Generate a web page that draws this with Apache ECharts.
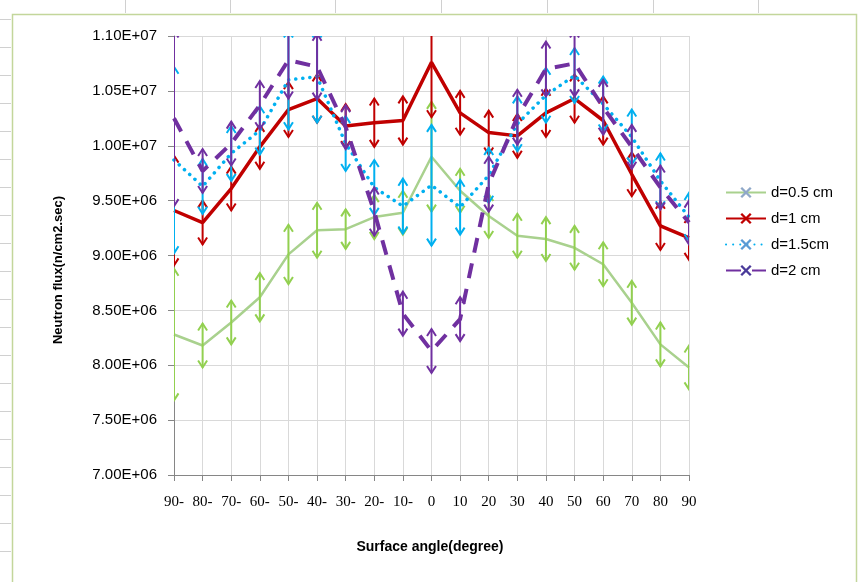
<!DOCTYPE html>
<html><head><meta charset="utf-8">
<script src="https://cdn.jsdelivr.net/npm/echarts@6/dist/echarts.min.js"></script>
<style>html,body{margin:0;padding:0;background:#fff}#c{width:861px;height:582px}</style>
</head><body><div id="c"></div>
<script>
// Category tick labels (surface angle)
const angles = ['90-','80-','70-','60-','50-','40-','30-','20-','10-','0','10','20','30','40','50','60','70','80','90'];
const seriesNames = ['d=0.5 cm','d=1 cm','d=1.5cm','d=2 cm'];
// Neutron flux values (n/cm2.sec)
const flux05 = [8.28e6,8.18e6,8.39e6,8.62e6,9.01e6,9.23e6,9.24e6,9.35e6,9.39e6,9.90e6,9.59e6,9.36e6,9.18e6,9.15e6,9.07e6,8.92e6,8.57e6,8.19e6,7.98e6];
const flux10 = [9.41e6,9.30e6,9.61e6,9.99e6,10.33e6,10.43e6,10.18e6,10.21e6,10.23e6,10.76e6,10.30e6,10.12e6,10.09e6,10.30e6,10.43e6,10.23e6,9.74e6,9.27e6,9.16e6];
const flux15 = [9.87e6,9.63e6,9.93e6,10.14e6,10.60e6,10.63e6,10.02e6,9.62e6,9.45e6,9.64e6,9.44e6,9.73e6,10.20e6,10.46e6,10.64e6,10.38e6,10.08e6,9.68e6,9.35e6];
const flux20 = [10.25e6,9.77e6,10.02e6,10.37e6,10.78e6,10.72e6,10.17e6,9.40e6,8.47e6,8.13e6,8.42e6,9.65e6,10.26e6,10.70e6,10.75e6,10.35e6,9.99e6,9.62e6,9.30e6];
// Error bar half-lengths
const err05 = [0.6e6,0.2e6,0.2e6,0.22e6,0.27e6,0.25e6,0.18e6,0.2e6,0.2e6,0.5e6,0.2e6,0.2e6,0.2e6,0.2e6,0.2e6,0.2e6,0.2e6,0.2e6,0.2e6];
const err10 = [0.5e6,0.2e6,0.2e6,0.2e6,0.25e6,0.22e6,0.2e6,0.22e6,0.22e6,0.5e6,0.2e6,0.2e6,0.2e6,0.22e6,0.22e6,0.22e6,0.2e6,0.22e6,0.2e6];
const err15 = [0.85e6,0.25e6,0.25e6,0.22e6,0.45e6,0.42e6,0.25e6,0.25e6,0.25e6,0.55e6,0.25e6,0.25e6,0.25e6,0.25e6,0.25e6,0.25e6,0.25e6,0.25e6,0.22e6];
const err20 = [0.8e6,0.2e6,0.2e6,0.22e6,0.35e6,0.3e6,0.2e6,0.22e6,0.2e6,0.2e6,0.2e6,0.25e6,0.25e6,0.25e6,0.3e6,0.25e6,0.2e6,0.2e6,0.2e6];

function expFmt(v){
  const e = Math.floor(Math.log10(v) + 1e-9);
  const m = v / Math.pow(10, e);
  return m.toFixed(2) + 'E+' + String(e).padStart(2,'0');
}
function errRender(color){
  return function(params, api){
    const x = api.value(0), v = api.value(1), e = api.value(2);
    const top = api.coord([x, v + e]);
    const bot = api.coord([x, v - e]);
    const w = 4.5, h = 7;
    const st = {stroke: color, lineWidth: 2, fill: null};
    return {type:'group', children:[
      {type:'line', shape:{x1:top[0],y1:top[1],x2:bot[0],y2:bot[1]}, style:st},
      {type:'polyline', shape:{points:[[top[0]-w,top[1]+h],[top[0],top[1]],[top[0]+w,top[1]+h]]}, style:st},
      {type:'polyline', shape:{points:[[bot[0]-w,bot[1]-h],[bot[0],bot[1]],[bot[0]+w,bot[1]-h]]}, style:st}
    ]};
  };
}
function errData(vals, errs){ return vals.map((v,i)=>[i, v, errs[i]]); }

const xMark = 'path://M0,1.5L1.5,0L10,8.5L8.5,10Z M8.5,0L10,1.5L1.5,10L0,8.5Z';
const colors = ['#a9d18e','#c00000','#00b0f0','#7030a0'];
const markColors = ['#8fa8c8','#c00000','#5b9bd5','#4a3a9a'];
const errColors = ['#92d050','#c00000','#00b0f0','#7030a0'];
const lineStyles = [
  {color: colors[0], width: 2.5, type: 'solid'},
  {color: colors[1], width: 3.5, type: 'solid'},
  {color: colors[2], width: 3.5, type: [0.1, 7], cap: 'round'},
  {color: colors[3], width: 4, type: [15, 11]}
];
const vals = [flux05, flux10, flux15, flux20];
const errs = [err05, err10, err15, err20];

const series = [];
for (let k = 0; k < 4; k++) {
  series.push({
    name: seriesNames[k], type: 'line', data: vals[k], symbol: xMark, symbolSize: 6, showSymbol: false,
    lineStyle: lineStyles[k], itemStyle: {color: markColors[k]}, z: 3 + k * 2, animation: false
  });
  series.push({
    name: seriesNames[k] + ' err', type: 'custom', data: errData(vals[k], errs[k]),
    renderItem: errRender(errColors[k]), encode: {x: 0, y: 1}, clip: true, z: 4 + k * 2,
    animation: false, silent: true
  });
}

const chart = echarts.init(document.getElementById('c'));
chart.setOption({
  backgroundColor: '#fff',
  animation: false,
  grid: {left: 174, right: 172, top: 36, bottom: 107, containLabel: false},
  xAxis: {
    type: 'category', data: angles, boundaryGap: false,
    axisLine: {lineStyle: {color: '#868686', width: 1}},
    axisTick: {show: true, length: 6, lineStyle: {color: '#868686'}, interval: 0},
    axisLabel: {interval: 0, margin: 20, fontFamily: 'Liberation Serif', fontSize: 15, color: '#000'},
    splitLine: {show: true, interval: 0, lineStyle: {color: '#d9d9d9', width: 1}}
  },
  yAxis: {
    type: 'value', min: 7e6, max: 11e6, interval: 5e5,
    axisLine: {show: true, lineStyle: {color: '#868686', width: 1}},
    axisTick: {show: true, length: 6, lineStyle: {color: '#868686'}},
    axisLabel: {formatter: expFmt, margin: 17, fontFamily: 'Liberation Sans', fontSize: 15, color: '#000'},
    splitLine: {show: true, lineStyle: {color: '#d9d9d9', width: 1}}
  },
  legend: {
    data: seriesNames, orient: 'vertical', left: 720, top: 180,
    itemWidth: 40, itemHeight: 14, itemGap: 11,
    textStyle: {fontFamily: 'Liberation Sans', fontSize: 15, color: '#000'}
  },
  graphic: [
    {type: 'rect', shape: {x: 12.5, y: 14.5, width: 844, height: 572}, style: {stroke: '#c3d69b', lineWidth: 1.5, fill: null}, z: -1},
    ...[125, 230, 335, 441, 547, 653, 758].map(x => ({type: 'line', shape: {x1: x + 0.5, y1: 0, x2: x + 0.5, y2: 13}, style: {stroke: '#d0d0d0', lineWidth: 1}})),
    ...[19, 47, 75, 103, 131, 159, 187, 215, 243, 271, 299, 327, 355, 383, 411, 439, 467, 495, 523, 551].map(y => ({type: 'line', shape: {x1: 0, y1: y + 0.5, x2: 11, y2: y + 0.5}, style: {stroke: '#d0d0d0', lineWidth: 1}})),
    {type: 'text', x: 58, y: 270, rotation: Math.PI / 2,
     style: {text: 'Neutron flux(n/cm2.sec)', font: 'bold 13px "Liberation Sans"', fill: '#000', textAlign: 'center', textVerticalAlign: 'middle'}},
    {type: 'text', x: 430, y: 547,
     style: {text: 'Surface angle(degree)', font: 'bold 14px "Liberation Sans"', fill: '#000', textAlign: 'center', textVerticalAlign: 'middle'}}
  ],
  series: series
});
</script>
</body></html>
